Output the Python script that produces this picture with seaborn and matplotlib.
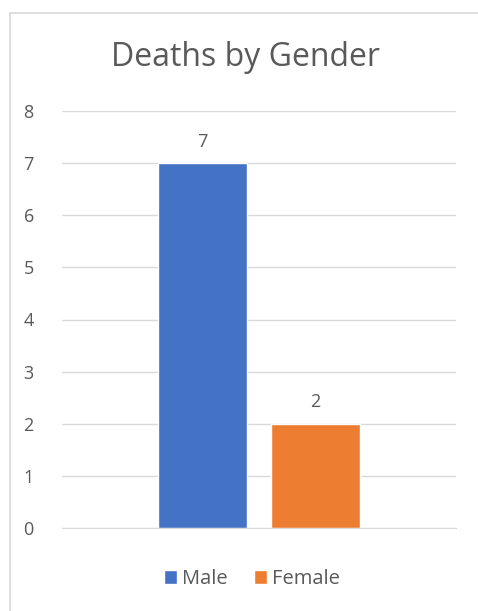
import matplotlib
matplotlib.use("Agg")
import matplotlib.pyplot as plt
import seaborn as sns
import pandas as pd
from matplotlib.patches import Rectangle, Patch

genders = ["Male", "Female"]
deaths = [7, 2]
colors = ["#4472C4", "#ED7D31"]
title = "Deaths by Gender"

sns.set_style("white")
plt.rcParams["font.family"] = ["Open Sans", "DejaVu Sans"]
text_col = "#595959"

df = pd.DataFrame({"gender": genders, "deaths": deaths})

fig = plt.figure(figsize=(4.78, 6.11), dpi=100)
ax = fig.add_axes([62 / 478, 83 / 611, 394 / 478, 417 / 611])

sns.barplot(data=df, x="gender", y="deaths", hue="gender", palette=colors,
            width=0.788, legend=False, ax=ax, saturation=1)

ax.set_ylim(0, 8)
ax.set_xlim(-1.243, 2.243)
ax.set_yticks(range(0, 9))
ax.yaxis.grid(True, color="#D9D9D9", lw=1)
ax.set_axisbelow(True)
ax.set_xticks([])
ax.set_xlabel("")
ax.set_ylabel("")
for s in ["top", "right", "left"]:
    ax.spines[s].set_visible(False)
ax.spines["bottom"].set_color("#D9D9D9")
ax.tick_params(axis="y", length=0, pad=24, labelsize=13, labelcolor=text_col)
for lbl in ax.get_yticklabels():
    lbl.set_horizontalalignment("center")

for c in ax.containers:
    ax.bar_label(c, padding=9, fontsize=13, color=text_col)

fig.text(246 / 478, 1 - 57 / 611, title, ha="center", va="center",
         fontsize=23, color=text_col)

handles = [Patch(facecolor=c, label=g) for g, c in zip(genders, colors)]
fig.legend(handles=handles, loc="center", bbox_to_anchor=(252 / 478, 1 - 579 / 611),
           ncol=2, frameon=False, fontsize=14.5, labelcolor=text_col,
           handlelength=0.65, handleheight=0.65, handletextpad=0.25, columnspacing=1.3)

fig.add_artist(Rectangle((10 / 478, -0.1), 1.0, 1.1 - 13 / 611, transform=fig.transFigure,
                         fill=False, edgecolor="#D9D9D9", lw=1.2))

fig.savefig("out.png", dpi=100)
